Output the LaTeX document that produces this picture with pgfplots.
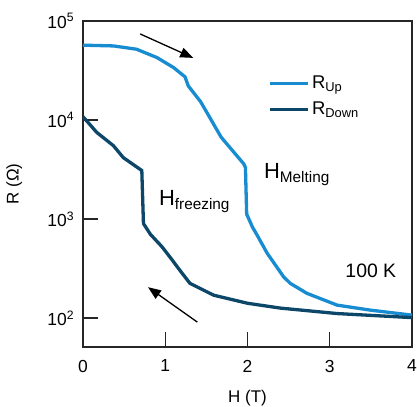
\documentclass[border=0pt]{standalone}
\usepackage{pgfplots}
\pgfplotsset{compat=1.18}
\usepackage{fontspec}
\setmainfont{Liberation Sans}
\usetikzlibrary{arrows.meta}
\definecolor{cup}{RGB}{24,140,208}
\definecolor{cdown}{RGB}{12,70,105}
\begin{document}
\fontsize{17}{20}\selectfont
\begin{tikzpicture}
\begin{axis}[
 scale only axis, width=329bp, height=326bp,
 ymode=log, xmin=0, xmax=4, ymin=51, ymax=1e5,
 xtick={0,1,2,3,4}, ytick={100,1000,10000,100000},
 yticklabels={10\textsuperscript{2},10\textsuperscript{3},10\textsuperscript{4},10\textsuperscript{5}},
 yminorticks=false,
 tick align=inside, xtick pos=bottom, ytick pos=left,
 major tick length=15bp,
 axis line style={line width=1.5bp, black!85},
 every tick/.style={line width=1.3bp, black!85},
 xlabel={H (T)}, ylabel={R (Ω)},
 /pgf/number format/assume math mode=true,
 ticklabel style={font=\fontsize{17.5}{20}\selectfont},
 xticklabel style={yshift=-7bp},
 yticklabel style={xshift=-3bp},
 label style={font=\fontsize{17}{20}\selectfont},
 xlabel style={at={(axis description cs:0.5,-0.115)}, anchor=north},
 ylabel style={at={(axis description cs:-0.167,0.5)}, anchor=south},
 legend style={draw=none, fill=none, at={(0.555,0.845)}, anchor=north west,
   font=\fontsize{18.5}{20}\selectfont, row sep=7bp},
 legend cell align=left,
 legend image code/.code={\draw[#1,line width=3.3bp] (0bp,0bp) -- (38bp,0bp);},
]
\addplot[cup, line width=3.3bp] coordinates {
(0,57000) (0.37,56000) (0.65,51900) (0.90,42700) (1.10,33900) (1.24,27300)
(1.28,22100) (1.43,15300) (1.68,6700) (1.955,3600) (1.975,3310) (1.99,1120)
(2.06,830) (2.12,680) (2.24,450) (2.44,260) (2.52,224) (2.72,178) (3.09,135) (3.5,120) (4.0,107)
};
\addlegendentry{R\textsubscript{Up}}
\addplot[cdown, line width=3.3bp] coordinates {
(0,10800) (0.167,7500) (0.37,5500) (0.49,4170) (0.715,3090) (0.735,900)
(0.82,700) (0.96,525) (1.08,390) (1.18,302) (1.30,224) (1.59,170) (2.0,141) (2.4,126) (3.09,111) (4.0,101)
};
\addlegendentry{R\textsubscript{Down}}
\node[anchor=base west, font=\fontsize{22}{24}\selectfont] at (axis cs:2.13,2566) {H\textsubscript{Melting}};
\node[anchor=base west, font=\fontsize{22}{24}\selectfont] at (axis cs:0.854,1371) {H\textsubscript{freezing}};
\node[anchor=base west, font=\fontsize{19.5}{22}\selectfont] at (axis cs:3.12,258) {100 K};
\draw[line width=1.3bp, -{Triangle[length=13bp,width=10bp]}] (axis cs:0.695,74000) -- (axis cs:1.34,42400);
\draw[line width=1.3bp, -{Triangle[length=13bp,width=10bp]}] (axis cs:1.39,91) -- (axis cs:0.79,205);
\coordinate (sw) at (rel axis cs:0,0);
\coordinate (ne) at (rel axis cs:1,1);
\end{axis}
\pgfresetboundingbox
\path[use as bounding box] ([shift={(-83bp,-60bp)}]sw) rectangle ([shift={(5bp,21bp)}]ne);
\end{tikzpicture}
\end{document}
